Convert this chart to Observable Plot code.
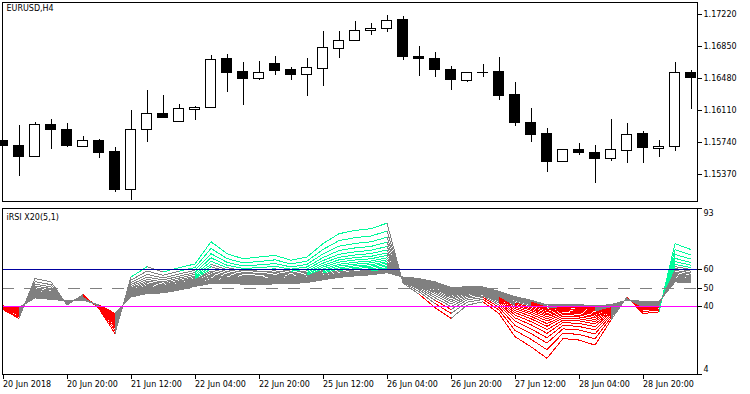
<!DOCTYPE html>
<html><head><meta charset="utf-8">
<script src="https://cdn.jsdelivr.net/npm/d3@7"></script>
<script src="https://cdn.jsdelivr.net/npm/@observablehq/plot@0.6"></script>
<style>
body{margin:0;background:#fff;}
#chart{position:relative;width:750px;height:394px;overflow:hidden;background:#fff;}
#chart svg{position:absolute;left:0;}
</style></head><body><div id="chart"></div>
<script>
// ---- Price panel data (EURUSD, H4), bars 0..43 ----
const opens  = [1.15763,1.15705,1.15570,1.15937,1.15890,1.15688,1.15763,1.15625,1.15185,1.15890,1.16072,1.15975,1.16118,1.16137,1.16700,1.16550,1.16472,1.16642,1.16573,1.16518,1.16592,1.16823,1.16916,1.17032,1.17055,1.17151,1.16734,1.16711,1.16584,1.16449,1.16548,1.16550,1.16284,1.15971,1.15833,1.15513,1.15659,1.15621,1.15547,1.15644,1.15833,1.15663,1.15690,1.16546];
const highs  = [1.15763,1.15937,1.15971,1.16006,1.15960,1.15809,1.15775,1.15682,1.16110,1.16341,1.16284,1.16180,1.16162,1.16746,1.16758,1.16665,1.16677,1.16734,1.16607,1.16711,1.17023,1.17023,1.17143,1.17116,1.17208,1.17197,1.16850,1.16781,1.16619,1.16546,1.16642,1.16723,1.16434,1.16133,1.15902,1.15656,1.15729,1.15706,1.16006,1.15960,1.15867,1.15760,1.16662,1.16573];
const lows   = [1.15697,1.15350,1.15561,1.15659,1.15682,1.15688,1.15559,1.15162,1.15070,1.15740,1.16026,1.15975,1.15995,1.16130,1.16322,1.16171,1.16460,1.16518,1.16460,1.16276,1.16391,1.16715,1.16916,1.16981,1.17015,1.16692,1.16507,1.16495,1.16345,1.16437,1.16495,1.16229,1.15928,1.15744,1.15397,1.15513,1.15594,1.15270,1.15524,1.15501,1.15501,1.15570,1.15639,1.16122];
const closes = [1.15697,1.15570,1.15937,1.15879,1.15694,1.15763,1.15617,1.15185,1.15890,1.16072,1.16026,1.16122,1.16141,1.16696,1.16541,1.16472,1.16546,1.16564,1.16518,1.16596,1.16827,1.16916,1.17032,1.17055,1.17147,1.16726,1.16703,1.16576,1.16460,1.16546,1.16546,1.16276,1.15963,1.15825,1.15513,1.15656,1.15617,1.15547,1.15648,1.15829,1.15671,1.15690,1.16546,1.16484];
const priceTicks = [1.17220,1.16850,1.16480,1.16110,1.15740,1.15370];

// ---- iRSI X20(5,1): RSI periods 5..24 ----
const rsi05 = [38.5,33.8,55.2,53.4,41.0,46.6,39.0,25.7,56.0,61.5,58.7,61.0,63.0,74.9,68.5,65.8,66.7,67.6,65.0,66.7,73.9,79.2,81.0,81.9,84.9,52.8,46.8,39.6,33.8,40.9,42.7,36.4,24.0,18.6,12.4,23.0,22.2,19.5,32.9,45.3,36.4,37.3,73.9,70.7];
const rsi06 = [38.8,34.7,53.5,51.9,41.4,46.1,39.3,27.4,54.3,59.2,56.9,59.1,61.1,71.3,65.9,63.6,64.3,65.2,63.0,64.5,70.8,75.5,77.1,78.0,80.6,53.3,48.1,41.8,36.5,42.5,44.0,38.3,27.4,22.6,17.0,25.9,25.2,22.9,34.2,45.0,37.5,38.2,70.6,67.8];
const rsi07 = [39.1,35.5,52.2,50.7,41.6,45.7,39.6,28.8,53.0,57.4,55.5,57.6,59.6,68.5,63.9,61.9,62.5,63.2,61.4,62.8,68.4,72.5,74.0,74.9,77.3,53.7,49.2,43.5,38.6,43.7,45.0,39.8,30.1,25.7,20.6,28.2,27.6,25.5,35.3,44.8,38.3,38.8,68.1,65.6];
const rsi08 = [39.3,36.0,51.2,49.8,41.8,45.4,39.8,29.9,51.9,56.0,54.4,56.4,58.4,66.3,62.3,60.6,61.0,61.7,60.2,61.4,66.4,70.2,71.6,72.4,74.7,54.0,50.0,44.9,40.2,44.7,45.8,41.0,32.3,28.2,23.4,30.1,29.5,27.6,36.1,44.6,38.9,39.4,66.0,63.8];
const rsi09 = [39.4,36.5,50.3,49.0,42.0,45.2,39.9,30.8,51.0,54.7,53.4,55.4,57.4,64.4,61.0,59.4,59.8,60.4,59.1,60.3,64.8,68.2,69.5,70.3,72.4,54.3,50.7,46.1,41.6,45.5,46.5,42.0,34.1,30.4,25.8,31.6,31.1,29.4,36.8,44.5,39.5,39.8,64.3,62.3];
const rsi10 = [39.6,36.9,49.6,48.3,42.2,45.0,40.1,31.5,50.2,53.7,52.7,54.5,56.5,62.8,59.9,58.5,58.8,59.3,58.3,59.3,63.4,66.6,67.8,68.6,70.5,54.5,51.3,47.1,42.8,46.2,47.0,42.8,35.6,32.1,27.8,32.9,32.5,30.8,37.4,44.4,40.0,40.2,62.8,61.0];
const rsi11 = [39.7,37.3,49.0,47.8,42.3,44.8,40.2,32.2,49.6,52.9,52.0,53.8,55.8,61.5,58.9,57.6,57.9,58.4,57.5,58.5,62.3,65.2,66.4,67.1,68.9,54.7,51.8,47.9,43.8,46.8,47.5,43.5,36.9,33.6,29.6,34.0,33.6,32.1,37.9,44.3,40.4,40.5,61.6,60.0];
const rsi12 = [39.8,37.6,48.4,47.3,42.4,44.7,40.3,32.7,49.0,52.1,51.4,53.2,55.2,60.3,58.1,57.0,57.1,57.7,56.9,57.8,61.3,64.0,65.1,65.8,67.6,54.9,52.3,48.6,44.7,47.3,47.9,44.1,38.0,34.9,31.0,35.0,34.6,33.2,38.3,44.2,40.7,40.8,60.6,59.1];
const rsi13 = [39.9,37.9,47.9,46.8,42.5,44.5,40.4,33.3,48.5,51.4,50.9,52.6,54.6,59.2,57.3,56.3,56.4,56.9,56.3,57.1,60.3,62.8,63.9,64.6,66.3,55.0,52.7,49.3,45.5,47.8,48.3,44.7,39.1,36.1,32.4,35.9,35.5,34.2,38.7,44.1,41.0,41.1,59.6,58.2];
const rsi14 = [40.0,38.1,47.5,46.4,42.6,44.4,40.5,33.7,48.1,50.8,50.4,52.1,54.1,58.3,56.7,55.7,55.8,56.3,55.8,56.6,59.5,61.9,62.9,63.6,65.2,55.2,53.0,49.8,46.2,48.2,48.6,45.2,39.9,37.1,33.6,36.6,36.3,35.0,39.0,44.0,41.3,41.3,58.7,57.5];
const rsi15 = [40.1,38.3,47.1,46.1,42.7,44.3,40.6,34.1,47.7,50.3,50.0,51.6,53.6,57.4,56.0,55.2,55.2,55.7,55.3,56.0,58.8,61.0,62.0,62.6,64.2,55.3,53.4,50.4,46.8,48.5,48.9,45.7,40.8,38.1,34.7,37.4,37.0,35.9,39.4,44.0,41.5,41.5,57.9,56.7];
const rsi16 = [40.1,38.5,46.8,45.8,42.8,44.2,40.6,34.4,47.3,49.8,49.6,51.3,53.3,56.8,55.5,54.8,54.8,55.2,54.9,55.6,58.2,60.2,61.2,61.9,63.4,55.4,53.6,50.8,47.3,48.8,49.2,46.0,41.4,38.9,35.6,37.9,37.6,36.5,39.6,43.9,41.7,41.7,57.3,56.2];
const rsi17 = [40.2,38.7,46.5,45.5,42.8,44.1,40.7,34.8,47.0,49.4,49.3,50.9,52.9,56.1,55.1,54.4,54.4,54.7,54.5,55.2,57.6,59.5,60.5,61.2,62.6,55.5,53.9,51.2,47.8,49.1,49.4,46.4,42.1,39.6,36.4,38.5,38.2,37.1,39.9,43.9,41.9,41.8,56.7,55.7];
const rsi18 = [40.2,38.8,46.2,45.2,42.9,44.0,40.7,35.1,46.7,49.0,49.0,50.6,52.6,55.4,54.6,54.0,53.9,54.3,54.1,54.8,57.0,58.8,59.8,60.4,61.8,55.6,54.1,51.6,48.3,49.4,49.7,46.8,42.7,40.4,37.3,39.0,38.7,37.8,40.1,43.8,42.1,42.0,56.1,55.1];
const rsi19 = [40.3,39.0,45.8,44.9,43.0,43.9,40.8,35.4,46.4,48.5,48.6,50.2,52.2,54.7,54.1,53.6,53.5,53.8,53.8,54.4,56.4,58.1,59.0,59.7,61.0,55.7,54.4,52.0,48.8,49.7,49.9,47.1,43.4,41.1,38.1,39.6,39.3,38.4,40.4,43.8,42.3,42.2,55.5,54.6];
const rsi20 = [40.3,39.1,45.6,44.8,43.0,43.8,40.8,35.6,46.2,48.3,48.4,50.0,52.0,54.3,53.8,53.3,53.2,53.5,53.5,54.1,56.1,57.7,58.6,59.2,60.4,55.7,54.5,52.3,49.2,49.9,50.1,47.3,43.8,41.6,38.7,39.9,39.7,38.8,40.5,43.7,42.5,42.3,55.0,54.2];
const rsi21 = [40.4,39.3,45.4,44.6,43.1,43.8,40.9,35.9,45.9,48.0,48.2,49.7,51.7,53.8,53.5,53.0,52.9,53.2,53.3,53.8,55.7,57.2,58.1,58.7,59.9,55.8,54.7,52.6,49.5,50.1,50.2,47.6,44.2,42.1,39.3,40.3,40.1,39.2,40.7,43.7,42.6,42.4,54.6,53.9];
const rsi22 = [40.4,39.4,45.2,44.4,43.1,43.7,40.9,36.1,45.7,47.7,47.9,49.5,51.5,53.4,53.1,52.7,52.6,52.9,53.0,53.5,55.3,56.7,57.6,58.2,59.4,55.9,54.9,52.8,49.8,50.3,50.4,47.8,44.6,42.6,39.9,40.7,40.4,39.7,40.9,43.7,42.7,42.5,54.2,53.5];
const rsi23 = [40.5,39.5,45.0,44.2,43.2,43.7,41.0,36.3,45.5,47.4,47.7,49.2,51.2,52.9,52.8,52.5,52.3,52.6,52.8,53.3,54.9,56.3,57.1,57.7,58.8,55.9,55.0,53.1,50.2,50.5,50.5,48.1,45.1,43.1,40.4,41.0,40.8,40.1,41.0,43.6,42.9,42.6,53.8,53.2];
const rsi24 = [40.5,39.6,44.8,44.0,43.2,43.6,41.0,36.5,45.3,47.1,47.5,49.0,51.0,52.5,52.5,52.2,52.0,52.3,52.5,53.0,54.5,55.8,56.6,57.2,58.3,56.0,55.2,53.4,50.5,50.7,50.7,48.3,45.5,43.6,41.0,41.4,41.2,40.5,41.2,43.6,43.0,42.7,53.4,52.8];
const levels = [60, 50, 40];
const rsiTicks = [93, 60, 50, 40, 4];

// ---- time axis ----
const timeTickBars = [0, 4, 8, 12, 16, 20, 24, 28, 32, 36, 40];
const timeTickLabels = ["20 Jun 2018","20 Jun 20:00","21 Jun 12:00","22 Jun 04:00","22 Jun 20:00","25 Jun 12:00","26 Jun 04:00","26 Jun 20:00","27 Jun 12:00","28 Jun 04:00","28 Jun 20:00"];

const FONT = {fontFamily: "'DejaVu Sans', sans-serif", fontSize: "8px", color: "#000", background: "transparent", overflow: "visible"};
const xDomain = [-0.03125, 43.40625];

const candles = opens.map((o, i) => ({i, open: o, high: highs[i], low: lows[i], close: closes[i]}));

const topChart = Plot.plot({
  width: 750, height: 205,
  marginLeft: 2, marginRight: 53, marginTop: 2, marginBottom: 4,
  style: FONT,
  x: {domain: xDomain, axis: null},
  y: {domain: [1.150578, 1.1735875], axis: null},
  marks: [
    Plot.ruleX(candles, {x: "i", y1: "low", y2: "high", stroke: "#000", shapeRendering: "crispEdges"}),
    Plot.rect(candles, {x1: d => d.i - 0.32, x2: d => d.i + 0.32, y1: "open", y2: "close",
      fill: d => d.close >= d.open ? "#fff" : "#000", stroke: "#000", shapeRendering: "crispEdges"}),
    Plot.frame({stroke: "#000", shapeRendering: "crispEdges"}),
    Plot.axisY(priceTicks, {anchor: "right", tickSize: 4, tickPadding: 2, tickFormat: d => d.toFixed(5), shapeRendering: "crispEdges"}),
    Plot.text(["EURUSD,H4"], {frameAnchor: "top-left", text: d => d, dx: 4, dy: 3, fill: "#000"})
  ]
});

const rsiLines = [rsi05,rsi06,rsi07,rsi08,rsi09,rsi10,rsi11,rsi12,rsi13,rsi14,rsi15,rsi16,rsi17,rsi18,rsi19,rsi20,rsi21,rsi22,rsi23,rsi24];
const GREEN = "#00FA9A", RED = "#FF0000", GRAY = "#808080";
const segs = [];
rsiLines.forEach((vals, k) => {
  for (let i = 1; i < vals.length; i++) {
    const v = vals[i];
    segs.push({k, x1: i - 1, x2: i, y1: vals[i - 1], y2: v, c: v > levels[0] ? GREEN : v < levels[2] ? RED : GRAY});
  }
});

const bottomChart = Plot.plot({
  width: 750, height: 189,
  marginLeft: 2, marginRight: 53, marginTop: 2.5, marginBottom: 20.5,
  style: FONT,
  x: {domain: xDomain, axis: null},
  y: {domain: [4, 93], axis: null},
  marks: [
    Plot.link(segs, {x1: "x1", y1: "y1", x2: "x2", y2: "y2", stroke: "c", strokeWidth: 1, shapeRendering: "crispEdges"}),
    Plot.ruleY([levels[0]], {stroke: "#0000A0", shapeRendering: "crispEdges"}),
    Plot.ruleY([levels[1]], {stroke: "#808080", strokeDasharray: "12,10", shapeRendering: "crispEdges"}),
    Plot.ruleY([levels[2]], {stroke: "#FF00FF", shapeRendering: "crispEdges"}),
    Plot.frame({stroke: "#000", shapeRendering: "crispEdges"}),
    Plot.axisY(rsiTicks, {anchor: "right", tickSize: 4, tickPadding: 2, tickFormat: d => (d === 93 || d === 4) ? "" : String(d), shapeRendering: "crispEdges"}),
    Plot.text([rsiTicks[0]], {y: d => d, text: d => String(d), frameAnchor: "right", dx: 6, dy: 5, textAnchor: "start", fill: "#000"}),
    Plot.text([rsiTicks[4]], {y: d => d, text: d => String(d), frameAnchor: "right", dx: 6, dy: -5, textAnchor: "start", fill: "#000"}),
    Plot.axisX(timeTickBars, {anchor: "bottom", tickSize: 5, tickPadding: 2, textAnchor: "start", dx: 0,
      tickFormat: d => timeTickLabels[timeTickBars.indexOf(d)], shapeRendering: "crispEdges"}),
    Plot.text(["iRSI X20(5,1)"], {frameAnchor: "top-left", text: d => d, dx: 4, dy: 6, fill: "#000"})
  ]
});

const host = document.getElementById("chart");
topChart.style.top = "0px";
bottomChart.style.top = "205px";
host.appendChild(topChart);
host.appendChild(bottomChart);
</script></body></html>
